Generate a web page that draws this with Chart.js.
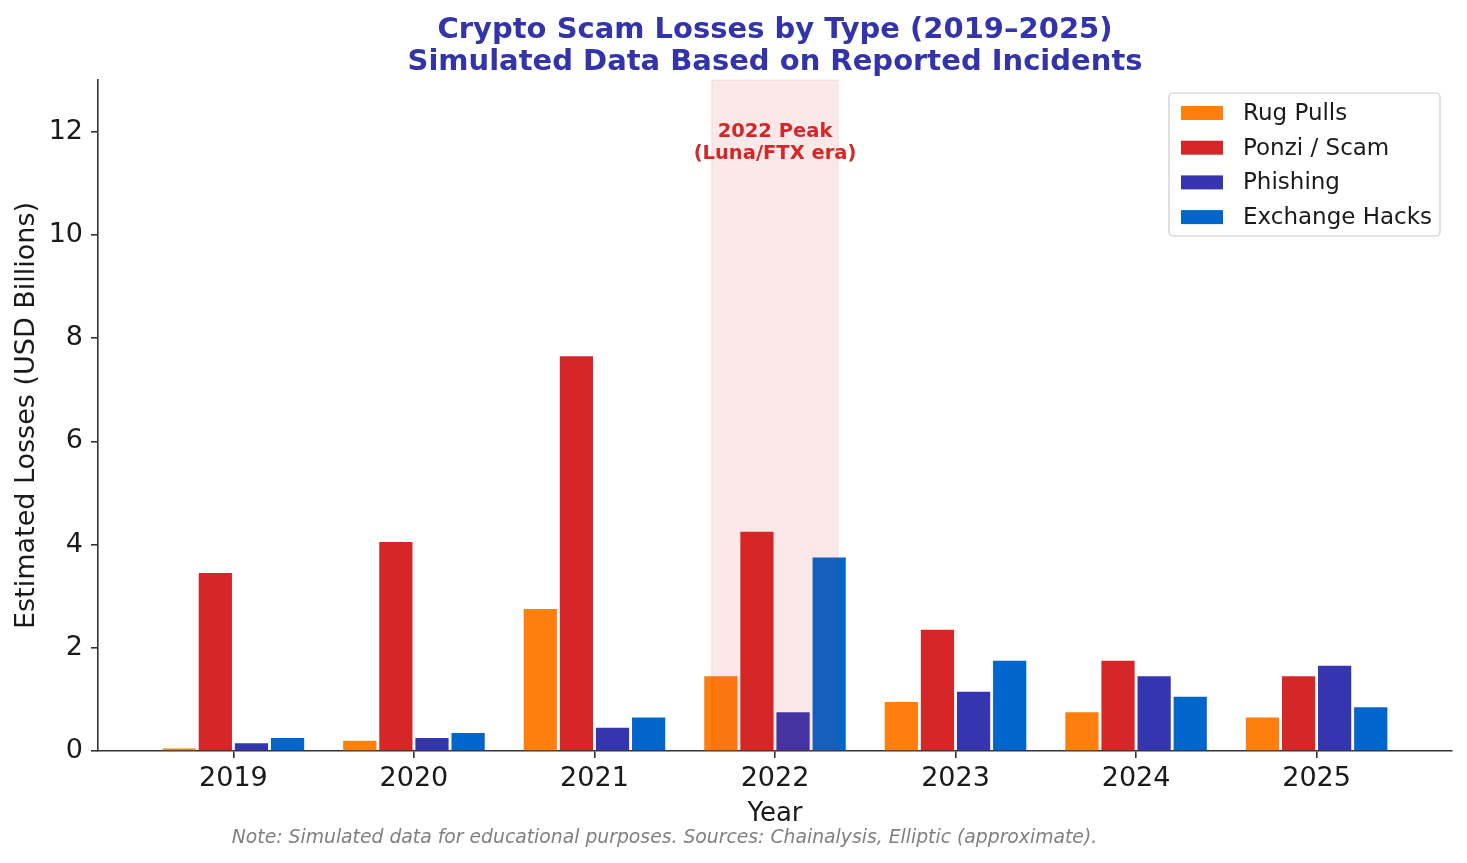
<!DOCTYPE html>
<html>
<head>
<meta charset="utf-8">
<script src="https://cdn.jsdelivr.net/npm/chart.js@4.4.1/dist/chart.umd.min.js"></script>
<style>
  html, body { margin: 0; padding: 0; background: #fff; }
  canvas { display: block; }
</style>
</head>
<body>
<canvas id="lossChart" width="1467" height="863"></canvas>
<script>
// Data (USD billions)
const years = ["2019", "2020", "2021", "2022", "2023", "2024", "2025"]
const rugPulls = [0.05, 0.2, 2.75, 1.45, 0.95, 0.75, 0.65]
const ponziScams = [3.45, 4.05, 7.65, 4.25, 2.35, 1.75, 1.45]
const phishing = [0.15, 0.25, 0.45, 0.75, 1.15, 1.45, 1.65]
const exchangeHacks = [0.25, 0.35, 0.65, 3.75, 1.75, 1.05, 0.85]
const yTicks = [0, 2, 4, 6, 8, 10, 12]
const peakYear = "2022"
const note = "Note: Simulated data for educational purposes. Sources: Chainalysis, Elliptic (approximate)."

const FONT = "'DejaVu Sans', sans-serif"
const AXIS = "#333333"

const toPoints = values => values.map((v, i) => ({ x: i, y: v }))

//Shaded 2022 band + annotation, drawn over the bars like matplotlib's axvspan
const peakBand = {
    id: "peakBand",
    afterDatasetsDraw(chart) {
        const { ctx, chartArea, scales } = chart
        const i = years.indexOf(peakYear)
        const x0 = scales.x.getPixelForValue(i - 0.35)
        const x1 = scales.x.getPixelForValue(i + 0.35)
        ctx.save()
        ctx.fillStyle = "rgba(214, 39, 40, 0.1)"
        ctx.fillRect(x0, chartArea.top, x1 - x0, chartArea.bottom - chartArea.top)
        ctx.strokeStyle = "rgba(214, 39, 40, 0.12)"
        ctx.lineWidth = 1
        ctx.strokeRect(x0, chartArea.top, x1 - x0, chartArea.bottom - chartArea.top)

        const cx = scales.x.getPixelForValue(i)
        const cy = scales.y.getPixelForValue(11.8)
        ctx.fillStyle = "#d62728"
        ctx.font = "bold 19.5px " + FONT
        ctx.textAlign = "center"
        ctx.textBaseline = "middle"
        ctx.fillText("2022 Peak", cx, cy - 10)
        ctx.fillText("(Luna/FTX era)", cx, cy + 12)
        ctx.restore()
    },
}

//Framed legend in the upper right of the plot, plus the footnote
const boxLegend = {
    id: "boxLegend",
    afterDraw(chart) {
        const { ctx, chartArea } = chart
        const w = 271, h = 143, rowH = 34.7
        const left = chartArea.right - 12 - w
        const top = chartArea.top + 13
        ctx.save()
        ctx.beginPath()
        ctx.roundRect(left, top, w, h, 4)
        ctx.fillStyle = "rgba(255, 255, 255, 0.8)"
        ctx.fill()
        ctx.strokeStyle = "#cccccc"
        ctx.lineWidth = 1.2
        ctx.stroke()
        ctx.font = "23px " + FONT
        ctx.textBaseline = "middle"
        ctx.textAlign = "left"
        chart.data.datasets.forEach((ds, k) => {
            const y = top + 20 + k * rowH
            ctx.fillStyle = ds.backgroundColor
            ctx.fillRect(left + 12, y - 7, 42, 14)
            ctx.fillStyle = "#1a1a1a"
            ctx.fillText(ds.label, left + 74, y + 1)
        })

        ctx.font = "italic 18.8px " + FONT
        ctx.fillStyle = "#808080"
        ctx.textAlign = "center"
        ctx.fillText(note, 664.5, chart.height - 25)
        ctx.restore()
    },
}

new Chart(document.getElementById("lossChart"), {
    type: "bar",
    data: {
        datasets: [
            { label: "Rug Pulls", data: toPoints(rugPulls), backgroundColor: "#ff7f0e" },
            { label: "Ponzi / Scam", data: toPoints(ponziScams), backgroundColor: "#d62728" },
            { label: "Phishing", data: toPoints(phishing), backgroundColor: "#3535b0" },
            { label: "Exchange Hacks", data: toPoints(exchangeHacks), backgroundColor: "#0066cc" },
        ],
    },
    options: {
        responsive: false,
        animation: false,
        devicePixelRatio: 1,
        categoryPercentage: 0.8,
        barPercentage: 0.92,
        layout: { padding: { left: 0, right: 15, top: 0, bottom: 33.4 } },
        scales: {
            x: {
                type: "linear",
                offset: false,
                min: -0.75,
                max: years.length - 0.25,
                afterBuildTicks: scale => {
                    scale.ticks = years.map((_, i) => ({ value: i }))
                },
                afterFit: scale => { scale.height = 78.6 },
                ticks: {
                    callback: value => years[value],
                    color: "#1a1a1a",
                    font: { family: FONT, size: 27 },
                    padding: 5,
                    maxRotation: 0,
                },
                grid: { offset: false, drawOnChartArea: false, drawTicks: true, tickLength: 7, color: AXIS, lineWidth: 1.6 },
                border: { display: true, color: AXIS, width: 1.6 },
                title: {
                    display: true,
                    text: "Year",
                    color: "#1a1a1a",
                    font: { family: FONT, size: 26 },
                    padding: { top: 0, bottom: 0 },
                },
            },
            y: {
                min: 0,
                max: 13,
                afterBuildTicks: scale => {
                    scale.ticks = yTicks.map(v => ({ value: v }))
                },
                afterFit: scale => { scale.width = 98 },
                ticks: {
                    color: "#1a1a1a",
                    font: { family: FONT, size: 27 },
                    padding: 8,
                },
                grid: { drawOnChartArea: false, drawTicks: true, tickLength: 7, color: AXIS, lineWidth: 1.6 },
                border: { display: true, color: AXIS, width: 1.6 },
                title: {
                    display: true,
                    text: "Estimated Losses (USD Billions)",
                    color: "#1a1a1a",
                    font: { family: FONT, size: 27 },
                    padding: { top: 11, bottom: 0 },
                },
            },
        },
        plugins: {
            legend: { display: false },
            tooltip: { enabled: false },
            title: {
                display: true,
                fullSize: false,
                text: ["Crypto Scam Losses by Type (2019\u20132025)", "Simulated Data Based on Reported Incidents"],
                color: "#3333aa",
                font: { family: FONT, size: 29, weight: "bold", lineHeight: 32 / 29 },
                padding: { top: 14, bottom: 2 },
            },
        },
    },
    plugins: [peakBand, boxLegend],
})
</script>
</body>
</html>
